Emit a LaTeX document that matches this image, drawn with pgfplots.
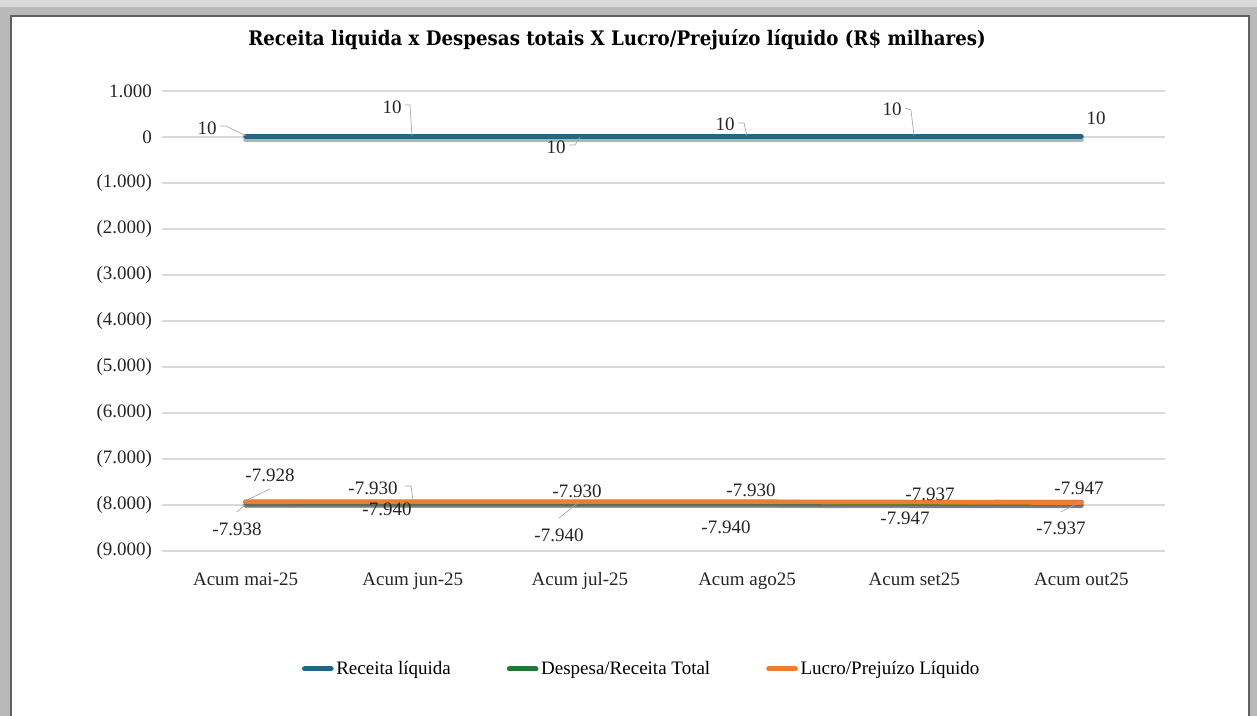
\documentclass[border=0pt]{standalone}
\usepackage{pgfplots}
\usepackage{pgfplotstable}
\pgfplotsset{compat=1.18}
\usepackage{fontspec}
\setmainfont{Liberation Serif}
\newfontfamily\titlefont[FakeStretch=0.91]{DejaVu Serif}
\definecolor{cblue}{HTML}{22668A}
\definecolor{cgreen}{HTML}{217A33}
\definecolor{corange}{HTML}{ED7D31}
\definecolor{cgrid}{HTML}{D9D9D9}
\newcommand{\lab}{\fontsize{14.25}{16}\selectfont}
\pgfplotstableread{
x y
0 10
1 10
2 10
3 10
4 10
5 10
}\receita
\pgfplotstableread{
x y
0 -7938
1 -7940
2 -7940
3 -7940
4 -7947
5 -7937
}\despesa
\pgfplotstableread{
x y
0 -7928
1 -7930
2 -7930
3 -7930
4 -7937
5 -7947
}\lucro
\begin{document}
\begin{tikzpicture}
\begin{scope}[shift={(0pt,537pt)}, x=0.75pt, y=-0.75pt]
\useasboundingbox (0,0) rectangle (1257,716);
\fill[gray!55] (0,0) rectangle (1257,716);
\fill[gray!30] (0,0) rectangle (1257,7);
\fill[white] (11,16) rectangle (1249,716);
\draw[gray!75!black, line width=1.2pt] (11,716) -- (11,16) -- (1249,16) -- (1249,716);
\node[font=\titlefont\bfseries\fontsize{15}{18}\selectfont, anchor=center] at (617,40) {Receita liquida x Despesas totais X Lucro/Prejuízo líquido (R\$ milhares)};
\end{scope}

\begin{axis}[
  at={(121.5pt,123.75pt)}, anchor=south west, scale only axis,
  width=752.25pt, height=345pt,
  xmin=-0.5, xmax=5.5, ymin=-9000, ymax=1000,
  axis line style={draw=none}, major tick length=0pt,
  ymajorgrids, grid style={color=cgrid, line width=0.9pt},
  xtick={0,1,2,3,4,5},
  xticklabels={Acum mai-25,Acum jun-25,Acum jul-25,Acum ago25,Acum set25,Acum out25},
  ytick={-9000,-8000,-7000,-6000,-5000,-4000,-3000,-2000,-1000,0,1000},
  yticklabels={{(9.000)},{(8.000)},{(7.000)},{(6.000)},{(5.000)},{(4.000)},{(3.000)},{(2.000)},{(1.000)},0,{1.000}},
  tick label style={font=\lab, text=black!85},
  yticklabel style={xshift=-4pt},
  xticklabel style={yshift=-12pt, text height=10pt, text depth=3pt},
  legend style={at={(0.4786,-0.2565)}, anchor=center, draw=none, fill=none, font=\lab, legend columns=3, /tikz/every even column/.append style={column sep=40pt}, inner sep=0pt},
  legend cell align=left,
  legend image code/.code={\draw[line width=3.75pt, line cap=round] (0pt,0pt) -- (20pt,0pt);},
  shadow/.style={black, opacity=0.3, line width=3.5pt, line cap=round, forget plot, transform canvas={yshift=-2.5pt}},
  every axis plot/.append style={line width=3.5pt, line cap=round, mark=none},
]
\addplot[shadow] table {\receita};
\addplot[shadow] table {\despesa};
\addplot[shadow] table {\lucro};
\addplot[cblue] table {\receita};
\addlegendentry{Receita líquida}
\addplot[cgreen] table {\despesa};
\addlegendentry{Despesa/Receita Total}
\addplot[corange] table {\lucro};
\addlegendentry{Lucro/Prejuízo Líquido}
\end{axis}

\begin{scope}[shift={(0pt,537pt)}, x=0.75pt, y=-0.75pt]
\begin{scope}[every node/.style={font=\lab, text=black!85, inner sep=0pt}]
\node at (207,128) {10};
\node at (392,107) {10};
\node at (556,147) {10};
\node at (725,124) {10};
\node at (892,109) {10};
\node at (1096,118) {10};
\node at (270,475) {-7.928};
\node at (237,529) {-7.938};
\node at (373,488) {-7.930};
\node at (387,509) {-7.940};
\node at (577,491) {-7.930};
\node at (559,535) {-7.940};
\node at (751,490) {-7.930};
\node at (726,527) {-7.940};
\node at (930,494) {-7.937};
\node at (905,518) {-7.947};
\node at (1079,488) {-7.947};
\node at (1061,528) {-7.937};
\end{scope}
\begin{scope}[draw=gray!70, line width=0.5pt]
\draw (220,126) -- (226,126) -- (246,136);
\draw (405,105) -- (410,105) -- (412,136);
\draw (569,145) -- (575,145) -- (580,137);
\draw (738,123) -- (744,123) -- (747,136);
\draw (905,108) -- (911,110) -- (914,136);
\draw (270,489) -- (245,501);
\draw (245,505) -- (237,512);
\draw (405,486) -- (411,486) -- (413,500);
\draw (579,502) -- (559,518);
\draw (1080,502) -- (1061,512);
\end{scope}
\end{scope}
\end{tikzpicture}
\end{document}
